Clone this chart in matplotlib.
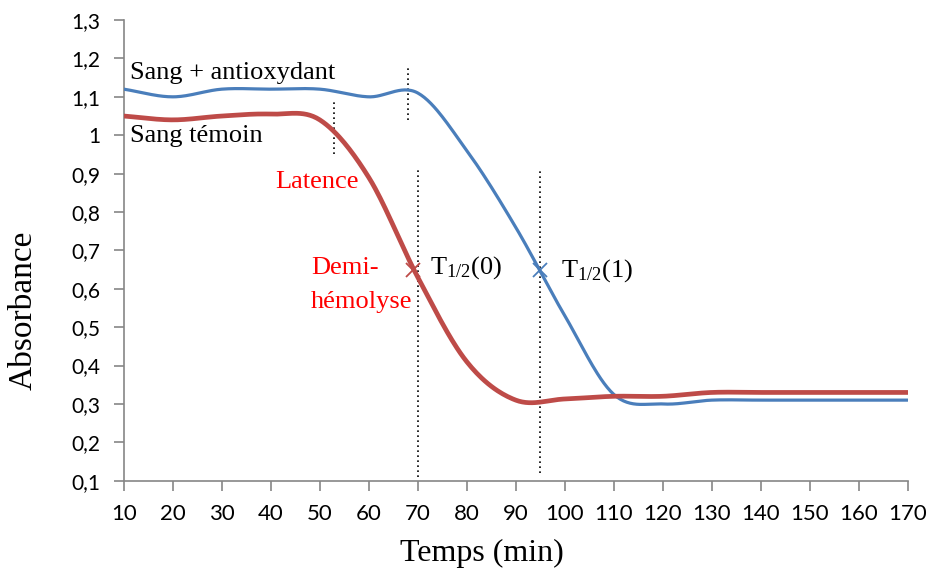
"""
Cinetique d'hemolyse : absorbance en fonction du temps,
sang temoin vs sang + antioxydant.
"""
import matplotlib
matplotlib.use("Agg")
import matplotlib.pyplot as plt
import numpy as np

plt.rcParams["mathtext.fontset"] = "custom"
plt.rcParams["mathtext.rm"] = "Liberation Serif"
plt.rcParams["mathtext.it"] = "Liberation Serif"

# ── data ───────────────────────────────────────────────────────────────────
temps = [10, 20, 30, 40, 50, 60, 70, 80, 90, 100, 110, 120, 130, 140, 150, 160, 170]
abs_antiox = [1.12, 1.10, 1.12, 1.12, 1.12, 1.10, 1.11, 0.96, 0.76, 0.53, 0.325,
              0.30, 0.31, 0.31, 0.31, 0.31, 0.31]
abs_temoin = [1.05, 1.04, 1.05, 1.055, 1.04, 0.89, 0.63, 0.41, 0.31, 0.313, 0.32,
              0.32, 0.33, 0.33, 0.33, 0.33, 0.33]

t_half = [69, 95]
abs_half = [0.65, 0.65]

BLUE = "#4A7EBB"
RED = "#BE4B48"
SERIF = ["Liberation Serif", "DejaVu Serif"]
TICKFONT = ["Lato", "DejaVu Sans"]


def smooth(x, y, n=30):
    """Excel-like smoothed line (Catmull-Rom through the points)."""
    x = np.asarray(x, float)
    y = np.asarray(y, float)
    px = np.concatenate([[2 * x[0] - x[1]], x, [2 * x[-1] - x[-2]]])
    py = np.concatenate([[2 * y[0] - y[1]], y, [2 * y[-1] - y[-2]]])
    t = np.linspace(0, 1, n, endpoint=False)
    xs, ys = [], []
    for i in range(1, len(px) - 2):
        for p, out in ((px, xs), (py, ys)):
            p0, p1, p2, p3 = p[i - 1], p[i], p[i + 1], p[i + 2]
            out.append(0.5 * (2 * p1 + (-p0 + p2) * t
                              + (2 * p0 - 5 * p1 + 4 * p2 - p3) * t ** 2
                              + (-p0 + 3 * p1 - 3 * p2 + p3) * t ** 3))
    xs.append([x[-1]])
    ys.append([y[-1]])
    return np.concatenate(xs), np.concatenate(ys)


fig = plt.figure(figsize=(9.31, 5.73), dpi=100)
ax = fig.add_axes([0.133, 0.161, 0.842, 0.804])

xb, yb = smooth(temps, abs_antiox)
xr, yr = smooth(temps, abs_temoin)
ax.plot(xb, yb, color=BLUE, lw=2.3, solid_capstyle="round", zorder=3)
ax.plot(xr, yr, color=RED, lw=3.4, solid_capstyle="round", zorder=3)

# repères pointillés
dots = dict(color="black", lw=1.2, ls=(0, (1, 2)), zorder=2)
ax.plot([53, 53], [0.95, 1.09], **dots)
ax.plot([68, 68], [1.04, 1.18], **dots)
ax.plot([70, 70], [0.11, 0.915], **dots)
ax.plot([95, 95], [0.12, 0.915], **dots)

ax.plot(t_half[0], abs_half[0], marker="x", ms=10, mew=1.3, color=RED, zorder=4)
ax.plot(t_half[1], abs_half[1], marker="x", ms=10, mew=1.3, color=BLUE, zorder=4)

# annotations
fs = 19
ax.text(11.3, 1.163, "Sang + antioxydant", family=SERIF, fontsize=fs, va="center")
ax.text(11.3, 0.997, "Sang témoin", family=SERIF, fontsize=fs, va="center")
ax.text(41.0, 0.877, "Latence", family=SERIF, fontsize=fs, color="red", va="center")
ax.text(48.2, 0.655, "Demi-", family=SERIF, fontsize=fs, color="red", va="center")
ax.text(48.2, 0.565, "hémolyse", family=SERIF, fontsize=fs, color="red", va="center")
ax.text(72.4, 0.655, r"T$_\mathrm{1/2}$(0)", family=SERIF, fontsize=fs, va="center")
ax.text(99.2, 0.648, r"T$_\mathrm{1/2}$(1)", family=SERIF, fontsize=fs, va="center")

ax.set_xlim(10, 170)
ax.set_ylim(0.1, 1.3)
ax.set_xticks(temps)
ax.set_xticklabels([str(t) for t in temps], family=TICKFONT, fontsize=16)
yt = np.round(np.arange(0.1, 1.31, 0.1), 1)
ax.set_yticks(yt)
ax.set_yticklabels([("%g" % v).replace(".", ",") for v in yt], family=TICKFONT, fontsize=15)

for s in ("top", "right"):
    ax.spines[s].set_visible(False)
for s in ("left", "bottom"):
    ax.spines[s].set_color("#868686")
    ax.spines[s].set_linewidth(1.2)
ax.tick_params(direction="out", length=7, width=1.2, color="#868686")
ax.tick_params(axis="x", pad=10)
ax.tick_params(axis="y", pad=10)

# axis titles (off-centre as in the original)
fig.text(482 / 931, 1 - 553 / 573, "Temps (min)", family=SERIF, fontsize=23,
         ha="center", va="center")
fig.text(23 / 931, 1 - 310 / 573, "Absorbance", family=SERIF, fontsize=24,
         ha="center", va="center", rotation=90)

fig.savefig("out.png", dpi=100)
